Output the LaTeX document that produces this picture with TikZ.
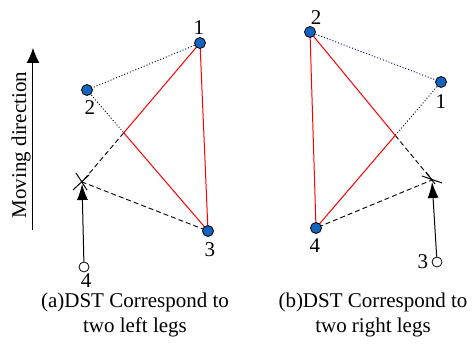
\documentclass[tikz,border=0pt]{standalone}
\usepackage{fontspec}
\setmainfont{Liberation Serif}
\usetikzlibrary{arrows.meta,calc}
\definecolor{legblue}{RGB}{20,100,190}

\begin{document}
\begin{tikzpicture}[x=0.5pt,y=-0.5pt,font=\fontsize{10.5}{12.5}\selectfont,
  leg/.style={circle,draw=black,line width=0.4pt,fill=legblue,inner sep=0pt,minimum size=5.5pt},
  freeleg/.style={circle,draw=black,line width=0.4pt,fill=white,inner sep=0pt,minimum size=5pt},
  dotline/.style={dash pattern=on 0.5pt off 1pt,line width=0.45pt},
  dashline/.style={dash pattern=on 2.5pt off 1.5pt,line width=0.45pt},
  support/.style={red,line width=0.5pt},
  swing/.style={-{Latex[length=8pt,width=5.5pt]},line width=0.5pt,shorten >=1pt},
  caption/.style={align=center,inner sep=0pt}]
  \useasboundingbox (0,0) rectangle (473,352);

  % moving direction
  \coordinate (m0) at (33,230);
  \coordinate (m1) at (33,48);
  \draw[-{Latex[length=7.5pt,width=6.5pt]},line width=0.5pt] (m0) -- (m1);
  \node[rotate=90] (move) at (21,145) {Moving direction};

  % (a) two left legs
  \coordinate (a1) at (200,43);
  \coordinate (a2) at (87,90);
  \coordinate (a3) at (208,231);
  \coordinate (ax) at (82,182);
  \coordinate (ai) at (intersection of a2--a3 and a1--ax);
  \draw[dotline] (a1) -- (a2) -- (ai);
  \draw[dashline] (ai) -- (ax) -- (a3);
  \draw[support] (a1) -- (ai) -- (a3) -- cycle;
  \draw[line width=0.5pt] ($(ax)+(-9,8)$) -- ($(ax)+(7,-7)$);
  \draw[line width=0.5pt] ($(ax)+(-6,-9)$) -- ($(ax)+(5,8)$);
  \node[leg] (l1) at (a1) {};
  \node[leg] (l2) at (a2) {};
  \node[leg] (l3) at (a3) {};
  \node[freeleg] (a4) at (84,267) {};
  \draw[swing] (a4) -- (ax);
  \node[inner sep=0pt] at (199,28) {1};
  \node[inner sep=0pt] at (90,108) {2};
  \node[inner sep=0pt] at (210,250) {3};
  \node[inner sep=0pt] at (86,281) {4};
  \node[caption] (capa) at (135,315) {(a)DST Correspond to\\two left legs};

  % (b) two right legs
  \coordinate (b1) at (441,82);
  \coordinate (b2) at (310,32);
  \coordinate (b4) at (316,228);
  \coordinate (bx) at (432,180);
  \coordinate (bi) at (intersection of b1--b4 and b2--bx);
  \draw[dotline,blue!50!black] (b2) -- (b1);
  \draw[dotline] (b1) -- (bi);
  \draw[dashline] (bi) -- (bx) -- (b4);
  \draw[support] (b2) -- (bi) -- (b4) -- cycle;
  \draw[line width=0.5pt] ($(bx)+(-10,-4)$) -- ($(bx)+(10,3)$);
  \draw[line width=0.5pt] ($(bx)+(-6,-8)$) -- ($(bx)+(3,4)$);
  \node[leg] (r1) at (b1) {};
  \node[leg] (r2) at (b2) {};
  \node[leg] (r4) at (b4) {};
  \node[freeleg] (b3) at (437,262) {};
  \draw[swing] (b3) -- (bx);
  \node[inner sep=0pt] at (441,102) {1};
  \node[inner sep=0pt] at (316,18) {2};
  \node[inner sep=0pt] at (423,262) {3};
  \node[inner sep=0pt] at (315,246) {4};
  \node[caption] (capb) at (373,315) {(b)DST Correspond to\\two right legs};
\end{tikzpicture}
\end{document}
